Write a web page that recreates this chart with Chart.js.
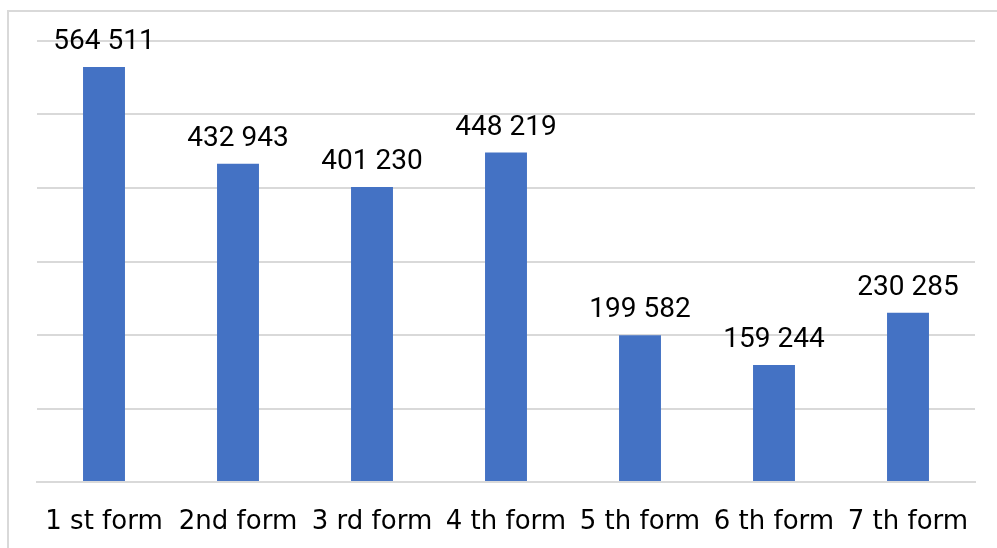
<!DOCTYPE html>
<html>
<head>
<meta charset="utf-8">
<script src="https://cdn.jsdelivr.net/npm/chart.js@4"></script>
<style>
  html, body { margin: 0; padding: 0; background: #fff; }
  body { width: 997px; height: 548px; position: relative; overflow: hidden; }
  #frame { position: absolute; left: 7px; top: 10px; width: 1000px; height: 600px; border: 2px solid #d9d9d9; box-sizing: border-box; }
  #wrap { position: absolute; left: 0; top: 0; width: 997px; height: 548px; }
</style>
</head>
<body>
<div id="frame"></div>
<div id="wrap"><canvas id="myChart"></canvas></div>
<script>
const categories = ['1 st form', '2nd form', '3 rd form', '4 th form', '5 th form', '6 th form', '7 th form'];
const values = [564511, 432943, 401230, 448219, 199582, 159244, 230285];
const valueLabels = ['564 511', '432 943', '401 230', '448 219', '199 582', '159 244', '230 285'];

const barLabels = {
  id: 'barLabels',
  afterDatasetsDraw(chart) {
    const c = chart.ctx;
    const meta = chart.getDatasetMeta(0);
    c.save();
    c.font = '28px Roboto';
    c.fillStyle = '#000';
    c.textAlign = 'center';
    c.textBaseline = 'bottom';
    meta.data.forEach((bar, i) => {
      c.fillText(valueLabels[i], bar.x, bar.y - 11);
    });
    c.restore();
  }
};

const ctx = document.getElementById('myChart');

new Chart(ctx, {
  type: 'bar',
  data: {
    labels: categories,
    datasets: [{
      data: values,
      backgroundColor: '#4472C4',
      barPercentage: 0.313,
      categoryPercentage: 1
    }]
  },
  plugins: [barLabels],
  options: {
    responsive: true,
    maintainAspectRatio: false,
    animation: false,
    layout: { padding: { left: 37, right: 22, top: 41, bottom: 0 } },
    plugins: { legend: { display: false }, tooltip: { enabled: false } },
    scales: {
      x: {
        grid: { display: false, drawTicks: false },
        border: { display: true, color: '#d9d9d9', width: 2 },
        ticks: { color: '#000', font: { family: 'DejaVu Sans', size: 26 }, padding: 25, maxRotation: 0, autoSkip: false },
        afterFit(axis) { axis.height = 66; }
      },
      y: {
        min: 0,
        max: 600000,
        ticks: { display: false, stepSize: 100000 },
        grid: { color: '#d9d9d9', lineWidth: 2, drawTicks: false },
        border: { display: false },
        afterFit(axis) { axis.width = 0; }
      }
    }
  }
});
</script>
</body>
</html>
